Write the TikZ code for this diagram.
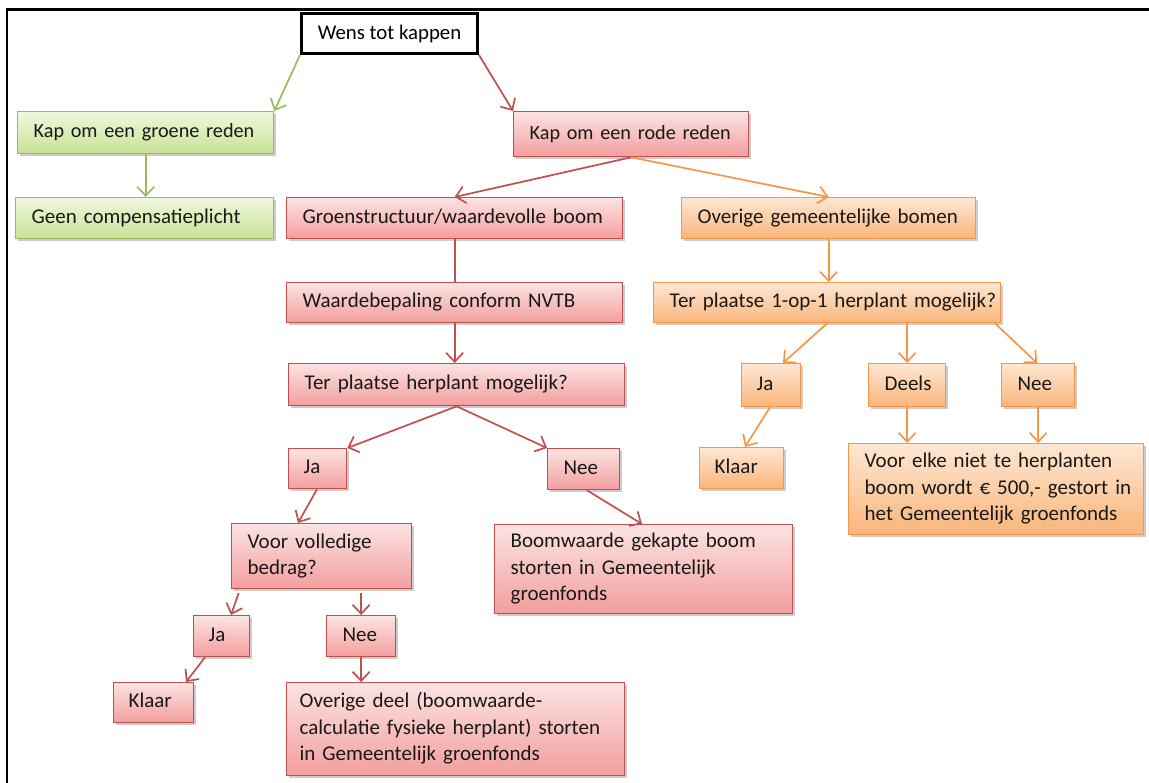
\documentclass[tikz,border=0pt]{standalone}
\usepackage{fontspec}
\setmainfont{Carlito}
\usetikzlibrary{arrows.meta,shadows}
\definecolor{redB}{HTML}{C0504D}
\definecolor{redT}{HTML}{FCE3E3}
\definecolor{redU}{HTML}{F29E9D}
\definecolor{grnB}{HTML}{9BBB59}
\definecolor{grnT}{HTML}{F0F7DE}
\definecolor{grnU}{HTML}{C9E294}
\definecolor{orgB}{HTML}{F79646}
\definecolor{orgT}{HTML}{FEE7D3}
\definecolor{orgU}{HTML}{F9B57A}
\newcommand\boxtxt[1]{\begin{tabular}{@{}l@{}}#1\end{tabular}}
\begin{document}
\begin{tikzpicture}[x=1pt,y=-1pt,
  box/.style={rectangle, draw, line width=1.3pt, anchor=north west,
    inner xsep=16pt, inner ysep=0pt, align=left,
    font=\fontsize{21}{26.5}\selectfont, text=black!90,
    drop shadow={shadow xshift=2pt, shadow yshift=-2.5pt, opacity=0.2, fill=black}},
  redbox/.style={box, draw=redB, top color=redT, bottom color=redU},
  grnbox/.style={box, draw=grnB, top color=grnT, bottom color=grnU},
  orgbox/.style={box, draw=orgB, top color=orgT, bottom color=orgU},
  smallfont/.style={font=\fontsize{20.2}{26.5}\selectfont},
  conn/.style={line width=1.7pt, -{Straight Barb[length=9pt,width=17pt]}},
  rconn/.style={conn, draw=redB},
  gconn/.style={conn, draw=grnB},
  oconn/.style={conn, draw=orgB},
]
\useasboundingbox (0,0) rectangle (1149,783);
\fill[white] (0,0) rectangle (1149,783);
% frame
\draw[line width=2.5pt, black] (7,783) -- (7,9.5) -- (1149,9.5);

% top
\node[rectangle, draw=black, line width=3pt, fill=white, anchor=north west,
  minimum width=176pt, minimum height=40pt, inner sep=0pt,
  font=\fontsize{20.8}{26.5}\selectfont] (wens) at (300,12) {Wens tot kappen};

% green branch
\node[grnbox, smallfont, text width=224pt, minimum height=42pt] (groen) at (17,111) {\boxtxt{Kap om een groene reden}};
\node[grnbox, text width=226pt, minimum height=41pt] (geen) at (15,197) {\boxtxt{Geen compensatieplicht}};

% red branch
\node[redbox, smallfont, text width=203pt, minimum height=45pt] (rode) at (513,111) {\boxtxt{Kap om een rode reden}};
\node[redbox, text width=304pt, minimum height=41pt] (gstr) at (286,197) {\boxtxt{Groenstructuur/waardevolle boom}};
\node[redbox, text width=304pt, minimum height=40pt] (waarde) at (286,282) {\boxtxt{Waardebepaling conform NVTB}};
\node[redbox, text width=304pt, minimum height=42pt] (tph) at (288,363) {\boxtxt{Ter plaatse herplant mogelijk?}};
\node[redbox, text width=28pt, minimum height=40pt, inner xsep=15pt] (ja1) at (288,448) {\boxtxt{Ja}};
\node[redbox, text width=40pt, minimum height=41pt] (nee1) at (547,448) {\boxtxt{Nee}};
\node[redbox, text width=148pt, minimum height=65pt] (voor) at (231,523) {\boxtxt{Voor volledige\\bedrag?}};
\node[redbox, text width=266pt, minimum height=89pt] (boom) at (494,524) {\boxtxt{Boomwaarde gekapte boom\\storten in Gemeentelijk\\groenfonds}};
\node[redbox, text width=26pt, minimum height=41pt, inner xsep=15pt] (ja2) at (193,615) {\boxtxt{Ja}};
\node[redbox, text width=37pt, minimum height=41pt] (nee2) at (326,615) {\boxtxt{Nee}};
\node[redbox, text width=50pt, minimum height=40pt, inner xsep=15pt] (klaar1) at (113,682) {\boxtxt{Klaar}};
\node[redbox, text width=312pt, minimum height=93pt, inner xsep=13pt] (rest) at (286,682) {\boxtxt{Overige deel (boomwaarde-\\calculatie fysieke herplant) storten\\in Gemeentelijk groenfonds}};

% orange branch
\node[orgbox, text width=262pt, minimum height=41pt] (overig) at (681,197) {\boxtxt{Overige gemeentelijke bomen}};
\node[orgbox, text width=315pt, minimum height=40pt] (tp1) at (653,282) {\boxtxt{Ter plaatse 1-op-1 herplant mogelijk?}};
\node[orgbox, text width=29pt, minimum height=43pt, inner xsep=15pt] (jao) at (741,363) {\boxtxt{Ja}};
\node[orgbox, text width=45pt, minimum height=43pt] (deels) at (868,363) {\boxtxt{Deels}};
\node[orgbox, text width=41pt, minimum height=43pt] (neeo) at (1001,363) {\boxtxt{Nee}};
\node[orgbox, text width=54pt, minimum height=41pt, inner xsep=15pt] (klaaro) at (699,447) {\boxtxt{Klaar}};
\node[orgbox, text width=263pt, minimum height=91pt] (elke) at (848,443) {\boxtxt{Voor elke niet te herplanten\\boom wordt € 500,- gestort in\\het Gemeentelijk groenfonds}};

% connectors green
\draw[gconn] (wens.south west) -- (groen.north east);
\draw[gconn] (groen.south) -- (groen.south |- geen.north);

% connectors red
\draw[rconn] (wens.south east) -- (rode.north west);
\draw[rconn] (rode.south) -- (gstr.north);
\draw[line width=1.7pt, draw=redB] (gstr.south) -- (gstr.south |- waarde.north);
\draw[rconn] (waarde.south) -- (waarde.south |- tph.north);
\draw[rconn] (tph.south) -- (ja1.north east);
\draw[rconn] (tph.south) -- (nee1.north west);
\draw[rconn] ([xshift=29pt]ja1.south west) -- ([xshift=67pt]voor.north west);
\draw[rconn] ([xshift=40pt]nee1.south west) -- ([xshift=148pt]boom.north west);
\draw[rconn, shorten <=4pt] ([xshift=9pt]voor.south west) -- ([xshift=38pt]ja2.north west);
\draw[rconn, shorten <=4pt] (voor.south -| nee2.north) -- (nee2.north);
\draw[rconn] ([xshift=12pt]ja2.south west) -- ([xshift=73pt]klaar1.north west);
\draw[rconn] (nee2.south) -- (nee2.south |- rest.north);

% connectors orange
\draw[oconn] (rode.south) -- (overig.north);
\draw[oconn] (overig.south) -- (overig.south |- tp1.north);
\draw[oconn] (tp1.south) -- ([xshift=42pt]jao.north west);
\draw[oconn] (tp1.south -| deels.north) -- (deels.north);
\draw[oconn] ([xshift=342pt]tp1.south west) -- ([xshift=36pt]neeo.north west);
\draw[oconn] ([xshift=29pt]jao.south west) -- ([xshift=46pt]klaaro.north west);
\draw[oconn] (deels.south) -- (deels.south |- elke.north);
\draw[oconn] (neeo.south) -- (neeo.south |- elke.north);
\end{tikzpicture}
\end{document}
